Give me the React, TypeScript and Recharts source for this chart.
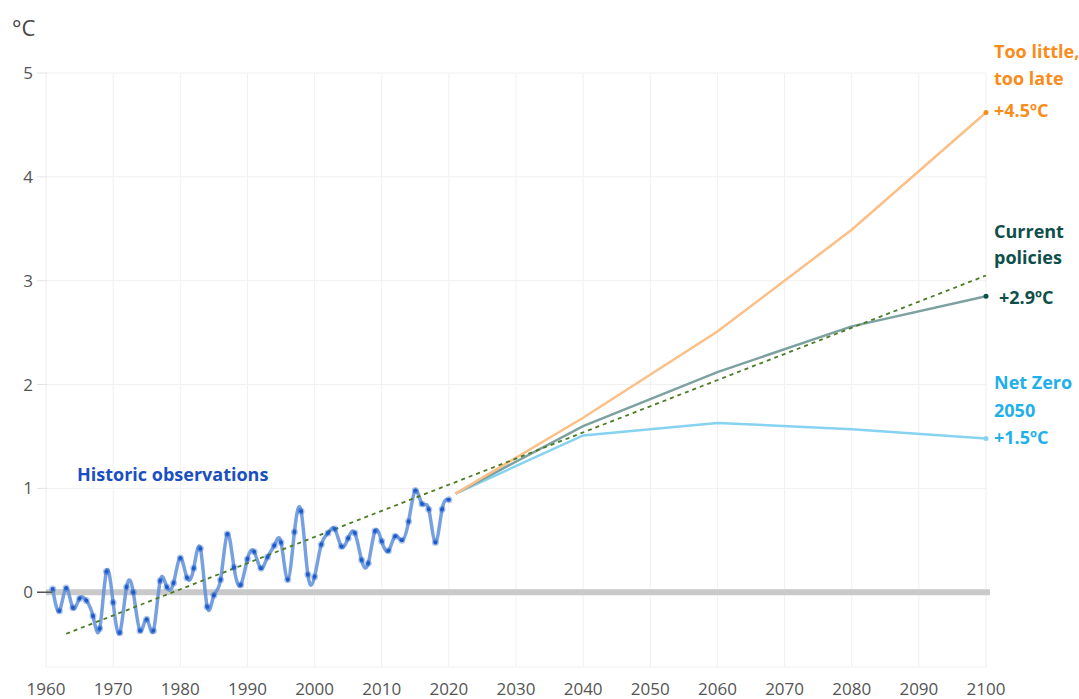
import {
  ComposedChart,
  Line,
  XAxis,
  YAxis,
  CartesianGrid,
  ReferenceLine,
} from 'recharts';

// observed anomaly, one value per year starting 1961
const histStart = 1961;
const histValues = [
  0.03, -0.18, 0.04, -0.15, -0.06, -0.08, -0.23, -0.35, 0.2, -0.1,
  -0.39, 0.05, 0.0, -0.37, -0.26, -0.37, 0.11, 0.05, 0.09, 0.33,
  0.14, 0.23, 0.42, -0.14, -0.03, 0.12, 0.56, 0.24, 0.07, 0.32,
  0.39, 0.23, 0.34, 0.45, 0.48, 0.12, 0.58, 0.78, 0.17, 0.15,
  0.46, 0.57, 0.61, 0.44, 0.52, 0.57, 0.31, 0.28, 0.59, 0.49,
  0.4, 0.54, 0.5, 0.68, 0.98, 0.85, 0.8, 0.48, 0.8, 0.89,
];

const projYears = [2021, 2040, 2060, 2080, 2100];
const tooLate = [0.95, 1.68, 2.51, 3.49, 4.62];
const currentPolicies = [0.95, 1.6, 2.12, 2.56, 2.85];
const netZero = [0.95, 1.51, 1.63, 1.57, 1.48];

const trendYears = [1963, 2100];
const trendValues = [-0.4, 3.05];

const xTicks = [1960, 1970, 1980, 1990, 2000, 2010, 2020, 2030, 2040, 2050, 2060, 2070, 2080, 2090, 2100];
const yTicks = [0, 1, 2, 3, 4, 5];

type Row = { year: number; hist?: number; late?: number; current?: number; net?: number; trend?: number };

const rows = new Map<number, Row>();
const row = (y: number) => {
  if (!rows.has(y)) rows.set(y, { year: y });
  return rows.get(y)!;
};
histValues.forEach((v, i) => (row(histStart + i).hist = v));
projYears.forEach((y, i) => {
  row(y).late = tooLate[i];
  row(y).current = currentPolicies[i];
  row(y).net = netZero[i];
});
trendYears.forEach((y, i) => (row(y).trend = trendValues[i]));
const chartData = Array.from(rows.values()).sort((a, b) => a.year - b.year);

const FONT = '"Open Sans", "Noto Sans", sans-serif';

const YTick = (props: any) => {
  const { y, payload } = props;
  const zero = payload.value === 0;
  return (
    <g>
      <text x={33} y={y} dy={6} textAnchor="end" fontSize={17} fill="#555" fontFamily={FONT}>
        {payload.value}
      </text>
      <line x1={37} x2={zero ? 52 : 47} y1={y} y2={y} stroke={zero ? '#555' : '#e4e4e4'} strokeWidth={zero ? 1.5 : 1} />
    </g>
  );
};

const endDot = (color: string) => (props: any) => {
  const { cx, cy, payload, index } = props;
  if (payload.year !== 2100 || cx == null) return <g key={index} />;
  return <circle key={index} cx={cx} cy={cy} r={2.5} fill={color} />;
};

const label = (top: number, left: number, color: string, text: string) => (
  <div
    style={{
      position: 'absolute',
      top,
      left,
      color,
      fontFamily: FONT,
      fontWeight: 700,
      fontSize: 18,
      lineHeight: '27px',
      whiteSpace: 'nowrap',
    }}
  >
    {text}
  </div>
);

export default function App() {
  return (
    <div style={{ position: 'absolute', left: 0, top: 0, width: 1079, height: 699, background: '#fff', overflow: 'hidden' }}>
      <ComposedChart
        width={1079}
        height={699}
        data={chartData}
        margin={{ top: 73, right: 93, left: 0, bottom: 0 }}
      >
        <CartesianGrid stroke="#f0f0f0" />
        <XAxis
          dataKey="year"
          type="number"
          domain={[1960, 2100]}
          ticks={xTicks}
          axisLine={false}
          tickLine={false}
          tickSize={0}
          tickMargin={16}
          height={32}
          tick={{ fontSize: 17, fill: '#555', fontFamily: FONT }}
        />
        <YAxis
          type="number"
          domain={[-0.72, 5]}
          ticks={yTicks}
          allowDataOverflow
          axisLine={false}
          tickLine={false}
          width={46}
          tick={<YTick />}
        />
        <ReferenceLine
          segment={[{ x: 1960, y: 0 }, { x: 2100.6, y: 0 }]}
          stroke="#c9c9c9"
          strokeWidth={6}
          ifOverflow="visible"
        />
        <Line
          type="natural"
          dataKey="hist"
          stroke="#5f8fdc"
          strokeOpacity={0.85}
          strokeWidth={3.5}
          dot={{ r: 2, fill: '#1d5cc8', stroke: '#1d5cc8', strokeOpacity: 0.35, strokeWidth: 3 }}
          isAnimationActive={false}
        />
        <Line
          type="linear"
          dataKey="net"
          stroke="#86d3f1"
          strokeWidth={2.5}
          connectNulls
          dot={endDot('#86d3f1')}
          isAnimationActive={false}
        />
        <Line
          type="linear"
          dataKey="current"
          stroke="#7da1a0"
          strokeWidth={2.5}
          connectNulls
          dot={endDot('#0f4f4a')}
          isAnimationActive={false}
        />
        <Line
          type="linear"
          dataKey="late"
          stroke="#fcbf86"
          strokeWidth={2.5}
          connectNulls
          dot={endDot('#f98c1b')}
          isAnimationActive={false}
        />
        <Line
          type="linear"
          dataKey="trend"
          stroke="#4b7b22"
          strokeWidth={1.8}
          strokeDasharray="4 4"
          connectNulls
          dot={false}
          isAnimationActive={false}
        />
      </ComposedChart>

      <div style={{ position: 'absolute', top: 12, left: 12, fontFamily: FONT, fontSize: 22, color: '#444' }}>°C</div>
      {label(38, 994, '#f98c1b', 'Too little,')}
      {label(65, 994, '#f98c1b', 'too late')}
      {label(97, 994, '#f98c1b', '+4.5ºC')}
      {label(218, 994, '#0f4f4a', 'Current')}
      {label(244, 994, '#0f4f4a', 'policies')}
      {label(284, 999, '#0f4f4a', '+2.9ºC')}
      {label(369, 994, '#1fb0e8', 'Net Zero')}
      {label(397, 994, '#1fb0e8', '2050')}
      {label(424, 994, '#1fb0e8', '+1.5ºC')}
      {label(461, 77, '#1a4fbf', 'Historic observations')}
    </div>
  );
}
